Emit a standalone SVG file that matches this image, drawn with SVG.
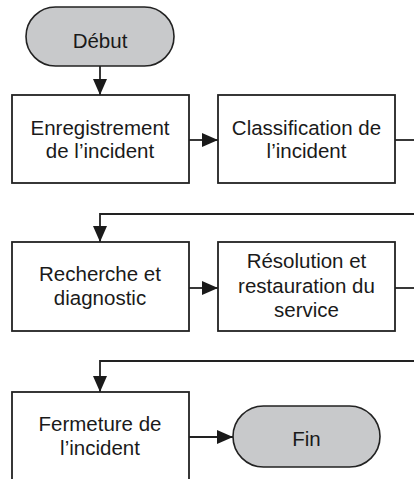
<svg xmlns="http://www.w3.org/2000/svg" width="414" height="479" viewBox="0 0 414 479">
<style>
.box{fill:#fff;stroke:#222;stroke-width:1.8}
.pill{fill:#c8c9cb;stroke:#222;stroke-width:1.6}
.lbl{font-family:"Liberation Sans",Arial,sans-serif;font-size:20.5px;fill:#1a1a1a;text-anchor:middle}
.con{fill:none;stroke:#222;stroke-width:1.8}
</style>
<defs>
<marker id="arr" viewBox="0 0 16 14" refX="16" refY="7" markerWidth="16" markerHeight="14" markerUnits="userSpaceOnUse" orient="auto">
<path d="M0,0 L16,7 L0,14 Z" fill="#1a1a1a"/>
</marker>
</defs>
<rect width="414" height="479" fill="#fff"/>
<g id="connectors">
<path class="con" d="M100,66 V95" marker-end="url(#arr)"/>
<path class="con" d="M189,140 H218" marker-end="url(#arr)"/>
<path class="con" d="M395,140 H414"/>
<path class="con" d="M414,214 H100 V242" marker-end="url(#arr)"/>
<path class="con" d="M189,288 H218" marker-end="url(#arr)"/>
<path class="con" d="M395,288 H414"/>
<path class="con" d="M414,361 H100 V392" marker-end="url(#arr)"/>
<path class="con" d="M189,437 H233" marker-end="url(#arr)"/>
</g>
<g id="debut">
<rect class="pill" x="26" y="7" width="148" height="59" rx="29.5"/>
<text class="lbl" x="100" y="48">Début</text>
</g>
<g id="enregistrement">
<rect class="box" x="12" y="95" width="177" height="88"/>
<text class="lbl" x="100" y="135">Enregistrement</text>
<text class="lbl" x="100" y="158">de l’incident</text>
</g>
<g id="classification">
<rect class="box" x="218" y="95" width="177" height="88"/>
<text class="lbl" x="306.5" y="135">Classification de</text>
<text class="lbl" x="306.5" y="158">l’incident</text>
</g>
<g id="recherche">
<rect class="box" x="12" y="242" width="177" height="89"/>
<text class="lbl" x="100" y="281">Recherche et</text>
<text class="lbl" x="100" y="305">diagnostic</text>
</g>
<g id="resolution">
<rect class="box" x="218" y="242" width="177" height="89"/>
<text class="lbl" x="306.5" y="268">Résolution et</text>
<text class="lbl" x="306.5" y="293">restauration du</text>
<text class="lbl" x="306.5" y="317">service</text>
</g>
<g id="fermeture">
<rect class="box" x="12" y="392" width="177" height="100"/>
<text class="lbl" x="100" y="431">Fermeture de</text>
<text class="lbl" x="100" y="455">l’incident</text>
</g>
<g id="fin">
<rect class="pill" x="233" y="406" width="147" height="61" rx="30.5"/>
<text class="lbl" x="306.5" y="446">Fin</text>
</g>
</svg>
